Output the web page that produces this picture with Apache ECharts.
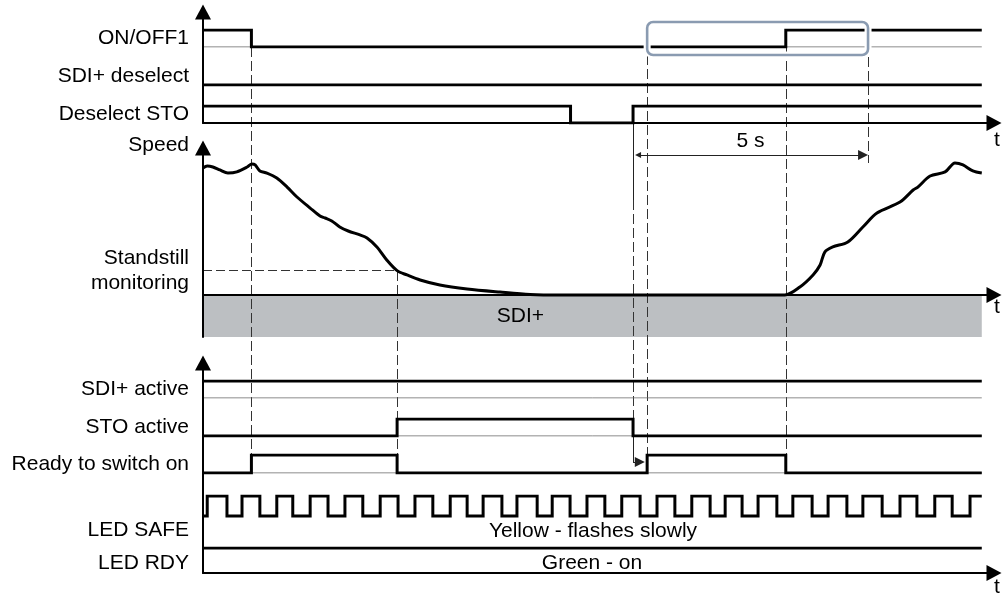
<!DOCTYPE html>
<html><head><meta charset="utf-8">
<script src="https://cdn.jsdelivr.net/npm/echarts@6/dist/echarts.min.js"></script>
<style>html,body{margin:0;padding:0;background:#fff}#c{width:1008px;height:598px}</style>
</head><body><div id="c"></div>
<script>
// ================= DATA (time in s, levels 0/1, speed in %) =================
const signalEnd = 16.57;
const onOff1       = [[0,1],[1.03,0],[12.40,1],[16.57,1]];
const sdiDeselect  = [[0,0],[16.57,0]];
const deselectSto  = [[0,1],[7.82,0],[9.15,1],[16.57,1]];
const sdiActive    = [[0,1],[16.57,1]];
const stoActive    = [[0,0],[4.13,1],[9.15,0],[16.57,0]];
const readyOn      = [[0,0],[1.03,1],[4.13,0],[9.45,1],[12.40,0],[16.57,0]];
const ledRdy       = [[0,1],[16.57,1]];
const ledSafeRise  = [0.09,0.83,1.57,2.28,3.02,3.77,4.51,5.26,5.96,6.68,7.43,8.17,8.91,9.66,10.40,11.11,11.81,12.55,13.30,14.04,14.83,15.57,16.32];
const ledSafeFall  = [0.51,1.21,1.91,2.66,3.40,4.15,4.89,5.62,6.36,7.11,7.81,8.55,9.30,10.04,10.79,11.47,12.21,12.96,13.70,14.45,15.19,15.94];
const speedTime  = [0,0.09,0.21,0.36,0.53,0.72,0.94,1.04,1.11,1.21,1.36,1.57,1.79,2.0,2.28,2.49,2.60,2.74,2.91,3.09,3.34,3.49,3.70,3.91,4.13,4.34,4.62,5.04,5.62,6.32,6.96,7.6,12.38,12.70,12.98,13.13,13.23,13.40,13.72,14.04,14.34,14.83,15.11,15.21,15.47,15.79,16.0,16.17,16.38,16.57];
const speedValue = [90.7,92.1,91.4,89.3,87.1,87.9,91.4,93.6,92.9,88.6,87.1,83.6,77.1,70.0,62.1,56.4,55.0,52.9,48.6,45.7,42.9,40.7,34.3,25.0,17.4,14.3,10.7,7.1,4.3,2.1,0.4,0,0,5.7,14.3,21.4,30.7,34.3,37.9,48.6,58.6,66.4,75.0,77.1,85.0,87.9,94.3,92.9,88.6,87.1];
const standstillLimit = 17.4;
const tOff = 1.03, tStandstill = 4.13, tStoBack = 9.15, tReady = 9.45, tOn = 12.40, tDelayEnd = 14.15;
const delayLabel = '5 s';
const labels = ['ON/OFF1','SDI+ deselect','Deselect STO','SDI+ active','STO active','Ready to switch on','LED SAFE','LED RDY'];
const ledSafeText = 'Yellow - flashes slowly';
const ledRdyText = 'Green - on';

// ================= LAYOUT =================
const FONT = "'Liberation Sans', Arial, Helvetica, sans-serif";
const FS = 21;
const X0 = 203, XW = 791, XMAX = 16.83;
const Y = {onoffLow:47, boxBottom:55, stoLow:123, dimY:155, threshold:271, stoActLow:436, arrowY:462, readyHigh:455};

const ledSafe = [[0,0]];
ledSafeRise.forEach((r,i)=>{ ledSafe.push([r,1]); if (i < ledSafeFall.length) ledSafe.push([ledSafeFall[i],0]); });
ledSafe.push([signalEnd,1]);

const rows = [
  {name:labels[0], data:onOff1,      top:30,  h:17, base:true},
  {name:labels[1], data:sdiDeselect, top:68,  h:17},
  {name:labels[2], data:deselectSto, top:106, h:17},
  {name:labels[3], data:sdiActive,   top:381, h:17, base:true},
  {name:labels[4], data:stoActive,   top:419, h:17, base:true},
  {name:labels[5], data:readyOn,     top:455, h:18, base:true},
  {name:labels[6], data:ledSafe,     top:496, h:68, min:-2.4},
  {name:labels[7], data:ledRdy,      top:548, h:30}
];

const grids = [], xAxes = [], yAxes = [], series = [];
const ARROW = {show:true, onZero:true, symbol:['none','triangle'], symbolSize:[16,15], lineStyle:{color:'#000', width:2}};
const noDeco = {axisTick:{show:false}, axisLabel:{show:false}, splitLine:{show:false}};
function frameX(gi, padTop){
  return Object.assign({type:'value', gridIndex:gi, min:0, max:XMAX, z:10, axisLine:ARROW,
    name:'t', nameLocation:'end', nameGap:0,
    nameTextStyle:{fontSize:FS, fontFamily:FONT, color:'#000', align:'left', verticalAlign:'top', padding:[padTop,0,0,0]}}, noDeco);
}
function frameY(gi, min, max, extra){
  return Object.assign({type:'value', gridIndex:gi, min, max, z:10, axisLine:ARROW}, noDeco, extra||{});
}
// 0: top frame
grids.push({left:X0, width:XW, top:12, height:111});
xAxes.push(frameX(0, 7)); yAxes.push(frameY(0, 0, 1));
// 1: speed
grids.push({left:X0, width:XW, top:148, height:189});
xAxes.push(frameX(1, 2));
yAxes.push(frameY(1, -30, 105, {name:'Speed', nameLocation:'end', nameGap:3,
  nameTextStyle:{fontSize:FS, fontFamily:FONT, color:'#000', align:'right', verticalAlign:'middle', padding:[0,14,0,0]}}));
// 2: bottom frame
grids.push({left:X0, width:XW, top:363, height:215});
xAxes.push(frameX(2, 4)); yAxes.push(frameY(2, 0, 1));
// 3: overlay (page px vertically)
grids.push({left:X0, width:XW, top:0, height:598});
xAxes.push({type:'value', gridIndex:3, min:0, max:XMAX, show:false});
yAxes.push({type:'value', gridIndex:3, min:0, max:598, inverse:true, show:false});

// rows
rows.forEach((r, k) => {
  const gi = grids.length;
  grids.push({left:X0, width:XW, top:r.top, height:r.h});
  xAxes.push({type:'value', gridIndex:gi, min:0, max:XMAX, show:false});
  yAxes.push(Object.assign({type:'value', gridIndex:gi, min:(r.min!=null?r.min:0), max:1, axisLine:{show:false},
    name:r.name, nameLocation:'middle', nameRotate:0, nameGap:14,
    nameTextStyle:{fontSize:FS, fontFamily:FONT, color:'#000', align:'right', verticalAlign:'middle'}}, noDeco));
  r.gi = gi;
  if (r.base) series.push({type:'line', xAxisIndex:gi, yAxisIndex:gi, data:[[0,0],[signalEnd,0]], symbol:'none', silent:true,
    lineStyle:{color:'#666', width:1}, z:2});
  series.push({type:'line', xAxisIndex:gi, yAxisIndex:gi, data:r.data, step:'end', symbol:'none', silent:true,
    lineStyle:{color:'#000', width:3, join:'miter', cap:'butt'}, z:3});
});

// highlight box around ON/OFF1 restart
series.push({type:'custom', xAxisIndex:rows[0].gi, yAxisIndex:rows[0].gi, clip:false, silent:true, z:6,
  data:[[tReady, tDelayEnd, 1.47, -0.47]], encode:{x:[0,1], y:[2,3]},
  renderItem(params, api){
    const p1 = api.coord([api.value(0), api.value(2)]), p2 = api.coord([api.value(1), api.value(3)]);
    const shape = {x:p1[0], y:p1[1], width:p2[0]-p1[0], height:p2[1]-p1[1], r:6};
    return {type:'group', children:[
      {type:'rect', shape, style:{fill:'none', stroke:'#fff', lineWidth:7}},
      {type:'rect', shape, style:{fill:'none', stroke:'#8a9bb1', lineWidth:2.6}}
    ]};
  }});

// speed curve + standstill + SDI+ area
series.push({type:'line', xAxisIndex:1, yAxisIndex:1, data:speedTime.map((t,i)=>[t, speedValue[i]]),
  smooth:0.3, symbol:'none', silent:true, lineStyle:{color:'#000', width:3}, z:5,
  markLine:{silent:true, symbol:['none','none'], animation:false,
    lineStyle:{color:'#333', width:1, type:[9,4]},
    label:{show:true, position:'start', formatter:'Standstill\nmonitoring', fontSize:FS, fontFamily:FONT, color:'#000',
      align:'right', lineHeight:25, distance:14},
    data:[[{coord:[0, standstillLimit]}, {coord:[tStandstill, standstillLimit]}]]},
  markArea:{silent:true, itemStyle:{color:'#bcbfc2'},
    label:{show:true, position:'inside', formatter:'SDI+', fontSize:FS, fontFamily:FONT, color:'#000', offset:[-72,0]},
    data:[[{coord:[0,-30]}, {coord:[signalEnd,0]}]]}
});

// guide lines (overlay)
const dashed = [
  [tOff, Y.onoffLow, Y.readyHigh],
  [tStandstill, Y.threshold, Y.readyHigh],
  [tStoBack, 200, Y.stoActLow],
  [tReady, Y.boxBottom, Y.readyHigh],
  [tOn, Y.onoffLow, Y.readyHigh],
  [tDelayEnd, Y.boxBottom+2, Y.dimY+8]
];
const solid = [[tStoBack, Y.stoLow, 200], [tStoBack, Y.stoActLow, Y.arrowY]];
series.push({type:'lines', coordinateSystem:'cartesian2d', xAxisIndex:3, yAxisIndex:3, silent:true, z:1,
  symbol:['none','none'], lineStyle:{color:'#333', width:1, type:[10,4], opacity:1},
  data:dashed.map(g=>({coords:[[g[0],g[1]],[g[0],g[2]]]}))});
series.push({type:'lines', coordinateSystem:'cartesian2d', xAxisIndex:3, yAxisIndex:3, silent:true, z:1,
  symbol:['none','none'], lineStyle:{color:'#222', width:1, type:'solid', opacity:1},
  data:solid.map(g=>({coords:[[g[0],g[1]],[g[0],g[2]]]}))});
const halfArrow = 5 * XMAX / XW;
series.push({type:'lines', coordinateSystem:'cartesian2d', xAxisIndex:3, yAxisIndex:3, silent:true, z:4,
  symbol:['none','triangle'], symbolSize:[6,10], lineStyle:{color:'#222', width:1, opacity:1},
  data:[{coords:[[tStoBack, Y.arrowY],[tReady - 0.05 - halfArrow, Y.arrowY]]}]});
series.push({type:'lines', coordinateSystem:'cartesian2d', xAxisIndex:3, yAxisIndex:3, silent:true, z:4,
  symbol:['triangle','triangle'], symbolSize:[6,10], lineStyle:{color:'#222', width:1, opacity:1},
  label:{show:true, position:'middle', formatter:delayLabel, fontSize:FS, fontFamily:FONT, color:'#000', distance:3},
  data:[{coords:[[tStoBack + halfArrow, Y.dimY],[tDelayEnd - halfArrow, Y.dimY]]}]});

const chart = echarts.init(document.getElementById('c'), null, {renderer:'canvas'});
chart.setOption({
  animation:false,
  textStyle:{fontFamily:FONT},
  grid:grids, xAxis:xAxes, yAxis:yAxes, series,
  graphic:[
    {type:'text', x:593, y:531, silent:true, style:{text:ledSafeText, fontSize:FS, fontFamily:FONT, fill:'#000', align:'center', verticalAlign:'middle'}},
    {type:'text', x:592, y:563, silent:true, style:{text:ledRdyText, fontSize:FS, fontFamily:FONT, fill:'#000', align:'center', verticalAlign:'middle'}}
  ]
});
</script></body></html>
